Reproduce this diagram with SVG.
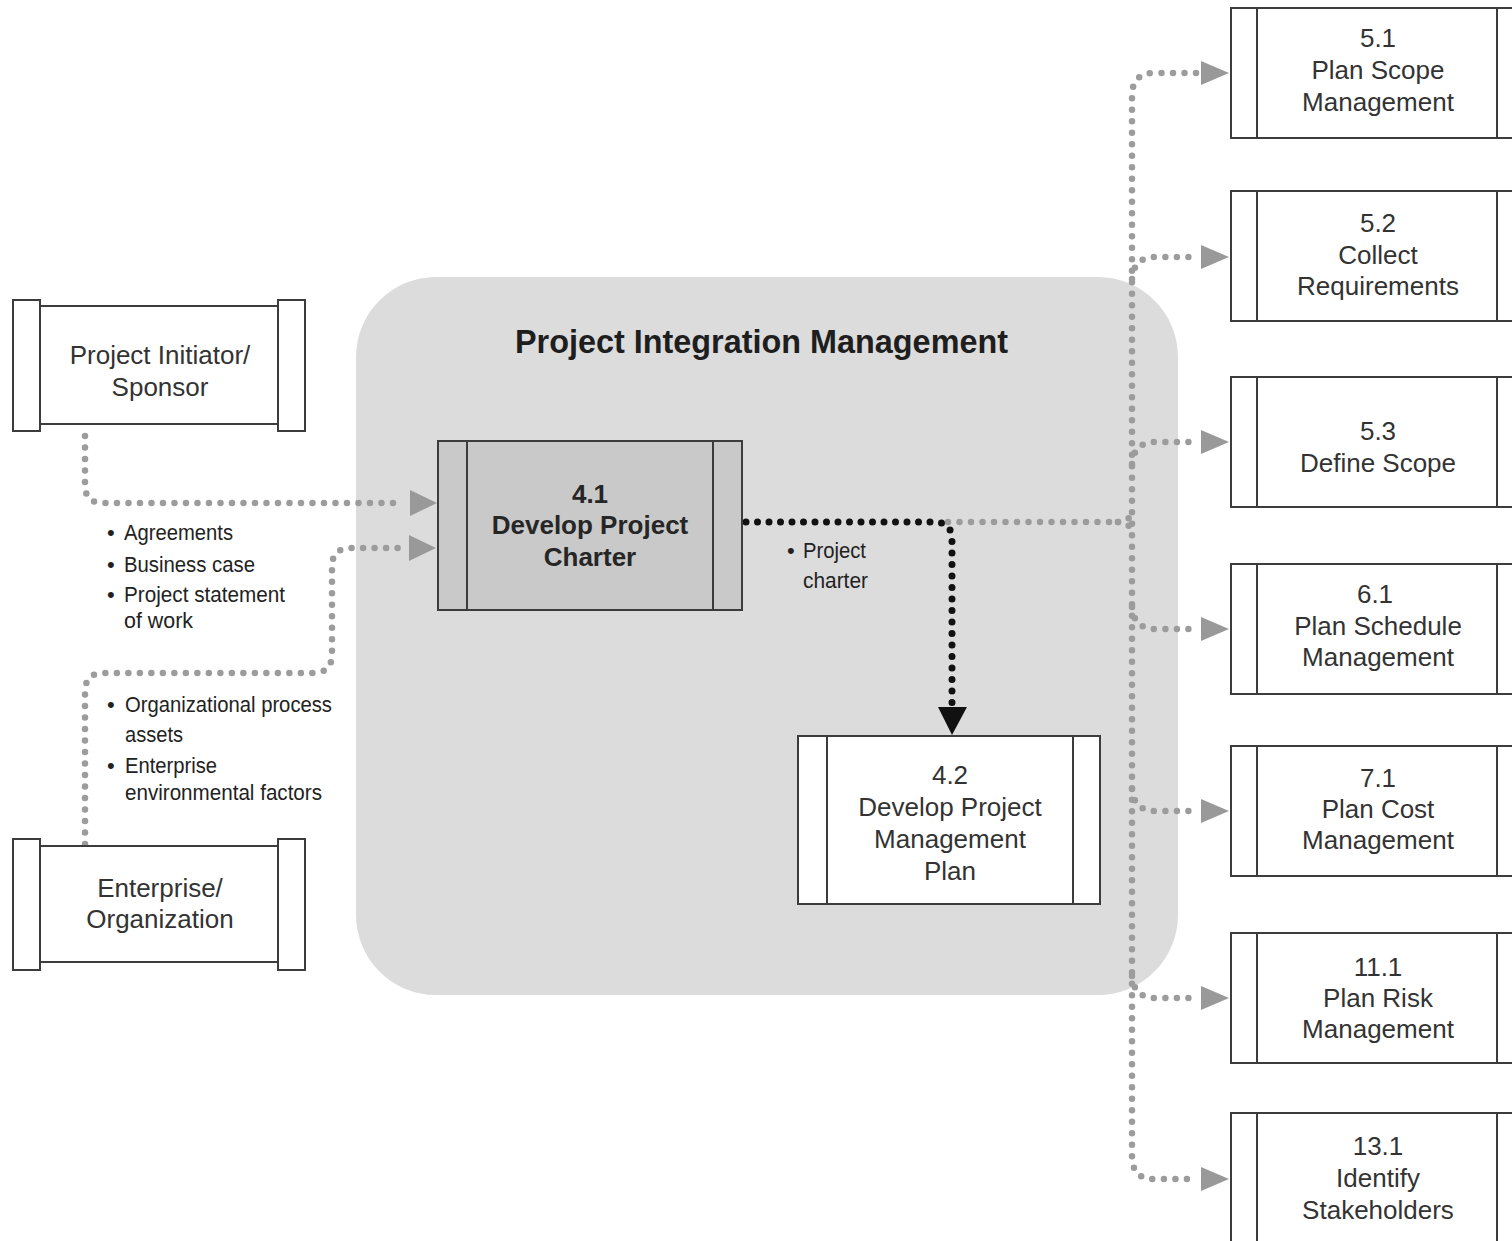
<svg xmlns="http://www.w3.org/2000/svg" width="1512" height="1241" viewBox="0 0 1512 1241">
  <style>
    .box { fill: #ffffff; stroke: #3c3c3c; stroke-width: 2; }
    .boxd { fill: #c9c9c9; stroke: #3c3c3c; stroke-width: 2; }
    .t { font-family: "Liberation Sans", Arial, sans-serif; font-size: 26px; fill: #333333; text-anchor: middle; }
    .tb { font-family: "Liberation Sans", Arial, sans-serif; font-size: 26px; font-weight: bold; fill: #262626; text-anchor: middle; }
    .title { font-family: "Liberation Sans", Arial, sans-serif; font-size: 34px; font-weight: bold; fill: #1e1e1e; }
    .lbl { font-family: "Liberation Sans", Arial, sans-serif; font-size: 22px; fill: #222222; }
    .gdot { fill: none; stroke: #9c9c9c; stroke-width: 6.5; stroke-linecap: round; stroke-dasharray: 0 11.5; }
    .kdot { fill: none; stroke: #111111; stroke-width: 7; stroke-linecap: round; stroke-dasharray: 0 11.5; }
    .garr { fill: #999999; }
    .karr { fill: #111111; }
  </style>
  <rect width="1512" height="1241" fill="#ffffff"/>

  <!-- Integration management area -->
  <g id="area">
    <rect x="356" y="277" width="822" height="718" rx="80" ry="80" fill="#dcdcdc"/>
    <text class="title" x="515" y="353" textLength="493" lengthAdjust="spacingAndGlyphs">Project Integration Management</text>
  </g>

  <!-- Connectors -->
  <g id="connectors">
    <path class="gdot" d="M85,436 L85,485 Q85,503 103,503 L404,503"/>
    <polygon class="garr" points="410,490 437,503 410,516"/>
    <path class="gdot" d="M85,844 L85,692 Q85,673 104,673 L313,673 Q332,673 332,654 L332,567 Q332,548 351,548 L404,548"/>
    <polygon class="garr" points="409,535 436,548 409,561"/>

    <path class="gdot" d="M948,522 L1118,522"/>
    <path class="gdot" d="M1118,522 Q1132,522 1132,508"/>
    <path class="gdot" d="M1118,522 Q1132,522 1132,536"/>
    <path class="kdot" d="M746,522 L934,522 Q952,522 952,540 L952,703"/>
    <polygon class="karr" points="938,707 967,707 952,735"/>

    <path class="gdot" d="M1196,73 L1154,73 Q1132,73 1132,96 L1132,1156 Q1132,1179 1154,1179 L1196,1179"/>
    <path class="gdot" d="M1132,279 Q1134,257 1155,257 L1196,257"/>
    <path class="gdot" d="M1132,464 Q1134,442 1155,442 L1196,442"/>
    <path class="gdot" d="M1132,607 Q1134,629 1155,629 L1196,629"/>
    <path class="gdot" d="M1132,789 Q1134,811 1155,811 L1196,811"/>
    <path class="gdot" d="M1132,976 Q1134,998 1155,998 L1196,998"/>
    <polygon class="garr" points="1201,61 1229,73 1201,85"/>
    <polygon class="garr" points="1201,245 1229,257 1201,269"/>
    <polygon class="garr" points="1201,430 1229,442 1201,454"/>
    <polygon class="garr" points="1201,617 1229,629 1201,641"/>
    <polygon class="garr" points="1201,799 1229,811 1201,823"/>
    <polygon class="garr" points="1201,986 1229,998 1201,1010"/>
    <polygon class="garr" points="1201,1167 1229,1179 1201,1191"/>

    <!-- labels -->
    <g id="labels">
      <text class="lbl" x="107" y="540">•</text>
      <text class="lbl" x="124" y="540" textLength="109" lengthAdjust="spacingAndGlyphs">Agreements</text>
      <text class="lbl" x="107" y="572">•</text>
      <text class="lbl" x="124" y="572" textLength="131" lengthAdjust="spacingAndGlyphs">Business case</text>
      <text class="lbl" x="107" y="602">•</text>
      <text class="lbl" x="124" y="602" textLength="161" lengthAdjust="spacingAndGlyphs">Project statement</text>
      <text class="lbl" x="124" y="628" textLength="69" lengthAdjust="spacingAndGlyphs">of work</text>

      <text class="lbl" x="107" y="712">•</text>
      <text class="lbl" x="125" y="712" textLength="207" lengthAdjust="spacingAndGlyphs">Organizational process</text>
      <text class="lbl" x="125" y="742" textLength="58" lengthAdjust="spacingAndGlyphs">assets</text>
      <text class="lbl" x="107" y="773">•</text>
      <text class="lbl" x="125" y="773" textLength="92" lengthAdjust="spacingAndGlyphs">Enterprise</text>
      <text class="lbl" x="125" y="800" textLength="197" lengthAdjust="spacingAndGlyphs">environmental factors</text>

      <text class="lbl" x="787" y="558">•</text>
      <text class="lbl" x="803" y="558" textLength="63" lengthAdjust="spacingAndGlyphs">Project</text>
      <text class="lbl" x="803" y="588" textLength="65" lengthAdjust="spacingAndGlyphs">charter</text>
    </g>
  </g>

  <!-- Left nodes -->
  <g id="initiator">
    <rect class="box" x="40" y="306" width="238" height="118"/>
    <rect class="box" x="13" y="300" width="27" height="131"/>
    <rect class="box" x="278" y="300" width="27" height="131"/>
    <text class="t" x="160" y="364">Project Initiator/</text>
    <text class="t" x="160" y="396">Sponsor</text>
  </g>
  <g id="enterprise">
    <rect class="box" x="40" y="846" width="238" height="116"/>
    <rect class="box" x="13" y="839" width="27" height="131"/>
    <rect class="box" x="278" y="839" width="27" height="131"/>
    <text class="t" x="160" y="897">Enterprise/</text>
    <text class="t" x="160" y="928">Organization</text>
  </g>

  <!-- 4.1 -->
  <g id="p41">
    <rect class="boxd" x="438" y="441" width="304" height="169"/>
    <line x1="467" y1="441" x2="467" y2="610" stroke="#3c3c3c" stroke-width="2"/>
    <line x1="713" y1="441" x2="713" y2="610" stroke="#3c3c3c" stroke-width="2"/>
    <text class="tb" x="590" y="503">4.1</text>
    <text class="tb" x="590" y="534">Develop Project</text>
    <text class="tb" x="590" y="566">Charter</text>
  </g>

  <!-- 4.2 -->
  <g id="p42">
    <rect class="box" x="798" y="736" width="302" height="168"/>
    <line x1="827" y1="736" x2="827" y2="904" stroke="#3c3c3c" stroke-width="2"/>
    <line x1="1073" y1="736" x2="1073" y2="904" stroke="#3c3c3c" stroke-width="2"/>
    <text class="t" x="950" y="784">4.2</text>
    <text class="t" x="950" y="816">Develop Project</text>
    <text class="t" x="950" y="848">Management</text>
    <text class="t" x="950" y="880">Plan</text>
  </g>

  <!-- Right nodes -->
  <g id="p51">
    <rect class="box" x="1231" y="8" width="300" height="130"/>
    <line x1="1257" y1="8" x2="1257" y2="138" stroke="#3c3c3c" stroke-width="2"/>
    <line x1="1497" y1="8" x2="1497" y2="138" stroke="#3c3c3c" stroke-width="2"/>
    <text class="t" x="1378" y="47">5.1</text>
    <text class="t" x="1378" y="79">Plan Scope</text>
    <text class="t" x="1378" y="111">Management</text>
  </g>
  <g id="p52">
    <rect class="box" x="1231" y="191" width="300" height="130"/>
    <line x1="1257" y1="191" x2="1257" y2="321" stroke="#3c3c3c" stroke-width="2"/>
    <line x1="1497" y1="191" x2="1497" y2="321" stroke="#3c3c3c" stroke-width="2"/>
    <text class="t" x="1378" y="232">5.2</text>
    <text class="t" x="1378" y="264">Collect</text>
    <text class="t" x="1378" y="295">Requirements</text>
  </g>
  <g id="p53">
    <rect class="box" x="1231" y="377" width="300" height="130"/>
    <line x1="1257" y1="377" x2="1257" y2="507" stroke="#3c3c3c" stroke-width="2"/>
    <line x1="1497" y1="377" x2="1497" y2="507" stroke="#3c3c3c" stroke-width="2"/>
    <text class="t" x="1378" y="440">5.3</text>
    <text class="t" x="1378" y="472">Define Scope</text>
  </g>
  <g id="p61">
    <rect class="box" x="1231" y="564" width="300" height="130"/>
    <line x1="1257" y1="564" x2="1257" y2="694" stroke="#3c3c3c" stroke-width="2"/>
    <line x1="1497" y1="564" x2="1497" y2="694" stroke="#3c3c3c" stroke-width="2"/>
    <text class="t" x="1375" y="603">6.1</text>
    <text class="t" x="1378" y="635">Plan Schedule</text>
    <text class="t" x="1378" y="666">Management</text>
  </g>
  <g id="p71">
    <rect class="box" x="1231" y="746" width="300" height="130"/>
    <line x1="1257" y1="746" x2="1257" y2="876" stroke="#3c3c3c" stroke-width="2"/>
    <line x1="1497" y1="746" x2="1497" y2="876" stroke="#3c3c3c" stroke-width="2"/>
    <text class="t" x="1378" y="787">7.1</text>
    <text class="t" x="1378" y="818">Plan Cost</text>
    <text class="t" x="1378" y="849">Management</text>
  </g>
  <g id="p111">
    <rect class="box" x="1231" y="933" width="300" height="130"/>
    <line x1="1257" y1="933" x2="1257" y2="1063" stroke="#3c3c3c" stroke-width="2"/>
    <line x1="1497" y1="933" x2="1497" y2="1063" stroke="#3c3c3c" stroke-width="2"/>
    <text class="t" x="1378" y="976">11.1</text>
    <text class="t" x="1378" y="1007">Plan Risk</text>
    <text class="t" x="1378" y="1038">Management</text>
  </g>
  <g id="p131">
    <rect class="box" x="1231" y="1113" width="300" height="140"/>
    <line x1="1257" y1="1113" x2="1257" y2="1253" stroke="#3c3c3c" stroke-width="2"/>
    <line x1="1497" y1="1113" x2="1497" y2="1253" stroke="#3c3c3c" stroke-width="2"/>
    <text class="t" x="1378" y="1155">13.1</text>
    <text class="t" x="1378" y="1187">Identify</text>
    <text class="t" x="1378" y="1219">Stakeholders</text>
  </g>
</svg>
